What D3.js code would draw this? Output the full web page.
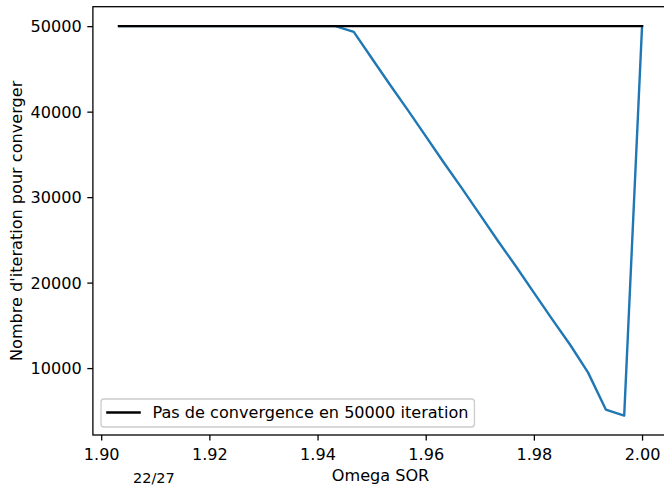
<!DOCTYPE html>
<html>
<head>
<meta charset="utf-8">
<script src="https://cdn.jsdelivr.net/npm/d3@7"></script>
<style>
  html, body { margin: 0; padding: 0; background: #fff; }
  svg { display: block; }
  text { font-family: "DejaVu Sans", sans-serif; fill: #000; }
</style>
</head>
<body>
<svg id="chart" width="664" height="486"></svg>
<script>
// SOR relaxation factor tested
const omega = [
  1.9033, 1.9067, 1.9100, 1.9133, 1.9167, 1.9200, 1.9233, 1.9267, 1.9300, 1.9333,
  1.9367, 1.9400, 1.9433, 1.9467, 1.9500, 1.9533, 1.9567, 1.9600, 1.9633, 1.9667,
  1.9700, 1.9733, 1.9767, 1.9800, 1.9833, 1.9867, 1.9900, 1.9933, 1.9967, 2.0000
];
// iterations needed to converge (capped at 50000)
const iterations = [
  50000, 50000, 50000, 50000, 50000, 50000, 50000, 50000, 50000, 50000,
  50000, 50000, 50000, 49330, 46280, 43230, 40180, 37130, 34080, 31030,
  27980, 24930, 21880, 18830, 15780, 12730, 9500, 5150, 4450, 50000
];
const maxIter = 50000;
const legendLabel = "Pas de convergence en 50000 iteration";
const xTicks = [1.90, 1.92, 1.94, 1.96, 1.98, 2.00];
const yTicks = [10000, 20000, 30000, 40000, 50000];
const xLabel = "Omega SOR";
const yLabel = "Nombre d'iteration pour converger";
const pageLabel = "22/27";

const svg = d3.select("#chart");
const fs = 16.1;
const box = { left: 92.9, right: 668.2, top: 6.7, bottom: 435 };

// 5% padding around the data range on both axes
const xExt = d3.extent(omega), xPad = (xExt[1] - xExt[0]) * 0.05;
const yExt = [d3.min(iterations), maxIter], yPad = (yExt[1] - yExt[0]) * 0.05;
const x = d3.scaleLinear().domain([xExt[0] - xPad, xExt[1] + xPad]).range([box.left, box.right]);
const y = d3.scaleLinear().domain([yExt[0] - yPad, yExt[1] + yPad]).range([box.bottom, box.top]);

svg.append("defs").append("clipPath").attr("id", "plot-area")
  .append("rect").attr("x", box.left).attr("y", box.top)
  .attr("width", box.right - box.left).attr("height", box.bottom - box.top);

const plot = svg.append("g").attr("clip-path", "url(#plot-area)");

const line = d3.line().x(d => x(d[0])).y(d => y(d[1]));

plot.append("path")
  .datum(omega.map((o, i) => [o, iterations[i]]))
  .attr("d", line)
  .attr("fill", "none").attr("stroke", "#1f77b4").attr("stroke-width", 2.4)
  .attr("stroke-linejoin", "round").attr("stroke-linecap", "square");

plot.append("path")
  .datum([[omega[0], maxIter], [omega[omega.length - 1], maxIter]])
  .attr("d", line)
  .attr("fill", "none").attr("stroke", "#000").attr("stroke-width", 2.4)
  .attr("stroke-linecap", "square");

// axes
const xAxis = svg.append("g").attr("transform", `translate(0,${box.bottom})`)
  .call(d3.axisBottom(x).tickValues(xTicks).tickFormat(d3.format(".2f"))
    .tickSize(5.6).tickPadding(5.6));
const yAxis = svg.append("g").attr("transform", `translate(${box.left},0)`)
  .call(d3.axisLeft(y).tickValues(yTicks).tickFormat(d3.format("d"))
    .tickSize(5.6).tickPadding(5.6));
[xAxis, yAxis].forEach(g => {
  g.select(".domain").remove();
  g.selectAll(".tick line").attr("stroke", "#000").attr("stroke-width", 1.29);
  g.selectAll(".tick text").attr("font-size", fs).attr("font-family", "DejaVu Sans").attr("fill", "#000");
});
xAxis.selectAll(".tick text").attr("dy", null).attr("y", 25);
yAxis.selectAll(".tick text").attr("dy", "0.36em");

// frame
svg.append("rect")
  .attr("x", box.left).attr("y", box.top)
  .attr("width", box.right - box.left).attr("height", box.bottom - box.top)
  .attr("fill", "none").attr("stroke", "#000").attr("stroke-width", 1.29);

// axis titles
svg.append("text").attr("x", (box.left + box.right) / 2).attr("y", 481)
  .attr("text-anchor", "middle").attr("font-size", fs).text(xLabel);
svg.append("text")
  .attr("transform", `translate(22,${(box.top + box.bottom) / 2}) rotate(-90)`)
  .attr("text-anchor", "middle").attr("font-size", fs).text(yLabel);

// legend
const leg = svg.append("g");
const legBox = leg.append("rect")
  .attr("x", 101).attr("y", 399).attr("height", 28).attr("rx", 3)
  .attr("fill", "#fff").attr("fill-opacity", 0.8)
  .attr("stroke", "#cccccc").attr("stroke-width", 1.29);
leg.append("line").attr("x1", 107.4).attr("x2", 139.6).attr("y1", 412.5).attr("y2", 412.5)
  .attr("stroke", "#000").attr("stroke-width", 2.4).attr("stroke-linecap", "square");
const legText = leg.append("text").attr("x", 152.5).attr("y", 418)
  .attr("font-size", fs).text(legendLabel);
legBox.attr("width", 152.5 - 101 + legText.node().getComputedTextLength() + 6);

// page number
svg.append("text").attr("x", 133).attr("y", 483)
  .attr("font-family", "Liberation Serif, serif").attr("font-size", 14.5)
  .attr("fill", "#222").text(pageLabel);
</script>
</body>
</html>
